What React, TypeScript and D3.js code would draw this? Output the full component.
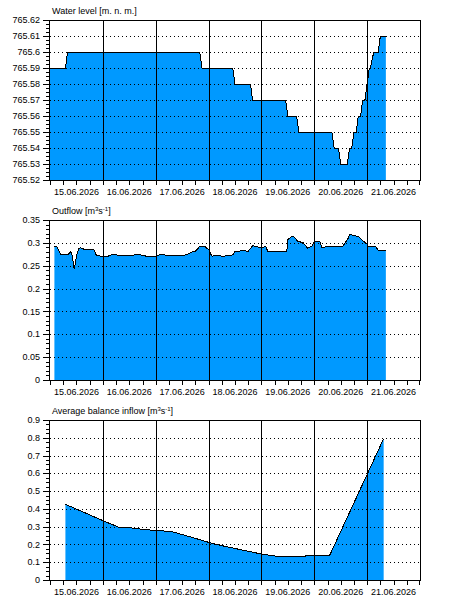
import * as d3 from "d3";

const parse = d3.timeParse("%d.%m.%Y %H:%M");

// water level [m n.m.]
const levelData: [string, number][] = [
  ["15.06.2026 00:00", 765.59],
  ["15.06.2026 07:00", 765.59],
  ["15.06.2026 08:00", 765.6],
  ["17.06.2026 20:00", 765.6],
  ["17.06.2026 21:00", 765.59],
  ["18.06.2026 11:00", 765.59],
  ["18.06.2026 12:00", 765.58],
  ["18.06.2026 19:00", 765.58],
  ["18.06.2026 20:00", 765.57],
  ["19.06.2026 11:00", 765.57],
  ["19.06.2026 12:00", 765.56],
  ["19.06.2026 16:00", 765.56],
  ["19.06.2026 17:00", 765.55],
  ["20.06.2026 08:00", 765.55],
  ["20.06.2026 09:00", 765.54],
  ["20.06.2026 11:00", 765.54],
  ["20.06.2026 12:00", 765.53],
  ["20.06.2026 15:00", 765.53],
  ["20.06.2026 16:00", 765.54],
  ["20.06.2026 17:00", 765.54],
  ["20.06.2026 18:00", 765.55],
  ["20.06.2026 19:00", 765.55],
  ["20.06.2026 20:00", 765.56],
  ["20.06.2026 21:00", 765.56],
  ["20.06.2026 22:00", 765.57],
  ["20.06.2026 23:00", 765.57],
  ["21.06.2026 00:00", 765.58],
  ["21.06.2026 01:00", 765.59],
  ["21.06.2026 01:30", 765.59],
  ["21.06.2026 03:00", 765.6],
  ["21.06.2026 05:00", 765.6],
  ["21.06.2026 06:00", 765.61],
  ["21.06.2026 08:30", 765.61],
];

// outflow [m3/s]
const outflowData: [string, number][] = [
  ["15.06.2026 02:00", 0.292],
  ["15.06.2026 03:00", 0.292],
  ["15.06.2026 05:00", 0.274],
  ["15.06.2026 08:00", 0.274],
  ["15.06.2026 09:30", 0.281],
  ["15.06.2026 10:00", 0.274],
  ["15.06.2026 11:00", 0.2425],
  ["15.06.2026 12:00", 0.27],
  ["15.06.2026 13:00", 0.288],
  ["15.06.2026 14:00", 0.289],
  ["15.06.2026 16:00", 0.285],
  ["15.06.2026 20:00", 0.285],
  ["15.06.2026 21:00", 0.2735],
  ["15.06.2026 23:30", 0.27],
  ["16.06.2026 02:00", 0.27],
  ["16.06.2026 04:00", 0.274],
  ["16.06.2026 08:00", 0.273],
  ["16.06.2026 12:00", 0.273],
  ["16.06.2026 17:00", 0.274],
  ["16.06.2026 20:00", 0.2705],
  ["17.06.2026 00:30", 0.2705],
  ["17.06.2026 02:00", 0.275],
  ["17.06.2026 05:00", 0.273],
  ["17.06.2026 11:00", 0.272],
  ["17.06.2026 14:00", 0.274],
  ["17.06.2026 16:00", 0.279],
  ["17.06.2026 18:00", 0.282],
  ["17.06.2026 20:00", 0.292],
  ["17.06.2026 22:00", 0.293],
  ["18.06.2026 00:00", 0.2855],
  ["18.06.2026 01:30", 0.271],
  ["18.06.2026 03:00", 0.272],
  ["18.06.2026 06:30", 0.271],
  ["18.06.2026 10:00", 0.272],
  ["18.06.2026 11:00", 0.274],
  ["18.06.2026 12:00", 0.281],
  ["18.06.2026 16:00", 0.283],
  ["18.06.2026 18:00", 0.2815],
  ["18.06.2026 20:00", 0.294],
  ["18.06.2026 23:00", 0.29],
  ["19.06.2026 00:00", 0.289],
  ["19.06.2026 02:00", 0.292],
  ["19.06.2026 03:00", 0.28],
  ["19.06.2026 07:00", 0.281],
  ["19.06.2026 11:30", 0.281],
  ["19.06.2026 12:00", 0.307],
  ["19.06.2026 14:00", 0.3146],
  ["19.06.2026 15:00", 0.312],
  ["19.06.2026 16:30", 0.3036],
  ["19.06.2026 19:00", 0.3],
  ["19.06.2026 21:00", 0.288],
  ["19.06.2026 23:00", 0.293],
  ["20.06.2026 00:00", 0.3036],
  ["20.06.2026 02:30", 0.303],
  ["20.06.2026 03:30", 0.29],
  ["20.06.2026 05:00", 0.291],
  ["20.06.2026 09:30", 0.292],
  ["20.06.2026 13:00", 0.293],
  ["20.06.2026 15:30", 0.311],
  ["20.06.2026 16:00", 0.3185],
  ["20.06.2026 17:30", 0.317],
  ["20.06.2026 20:00", 0.3135],
  ["20.06.2026 22:00", 0.305],
  ["21.06.2026 00:00", 0.297],
  ["21.06.2026 00:30", 0.291],
  ["21.06.2026 04:00", 0.291],
  ["21.06.2026 05:00", 0.284],
  ["21.06.2026 08:30", 0.284],
];

// average balance inflow [m3/s]
const inflowData: [string, number][] = [
  ["15.06.2026 07:00", 0.426],
  ["16.06.2026 00:00", 0.334],
  ["16.06.2026 07:00", 0.298],
  ["16.06.2026 11:00", 0.296],
  ["16.06.2026 17:00", 0.2865],
  ["17.06.2026 00:00", 0.278],
  ["17.06.2026 05:00", 0.275],
  ["17.06.2026 08:00", 0.27],
  ["17.06.2026 20:00", 0.227],
  ["18.06.2026 00:00", 0.212],
  ["18.06.2026 07:30", 0.189],
  ["19.06.2026 00:00", 0.146],
  ["19.06.2026 06:00", 0.135],
  ["19.06.2026 20:00", 0.135],
  ["19.06.2026 21:00", 0.139],
  ["20.06.2026 07:00", 0.139],
  ["21.06.2026 07:30", 0.795],
];

const levelTicks = [765.52, 765.53, 765.54, 765.55, 765.56, 765.57, 765.58, 765.59, 765.6, 765.61, 765.62];
const outflowTicks = [0, 0.05, 0.1, 0.15, 0.2, 0.25, 0.3, 0.35];
const inflowTicks = [0, 0.1, 0.2, 0.3, 0.4, 0.5, 0.6, 0.7, 0.8, 0.9];

const startDay = "15.06.2026 00:00";
const endDay = "22.06.2026 00:00";

const FONT = "'Liberation Sans', Arial, sans-serif";
const FILL = "#0099ff";

const x = d3
  .scaleTime()
  .domain([parse(startDay)!, parse(endDay)!])
  .range([50, 420]);

const px = (v: number) => Math.round(v) + 0.5;

interface PanelProps {
  title: React.ReactNode;
  data: [string, number][];
  ticks: number[];
  minorPer: number;
  top: number;
  bottom: number;
}

function Panel({ title, data, ticks, minorPer, top, bottom }: PanelProps) {
  const y = d3
    .scaleLinear()
    .domain([ticks[0], ticks[ticks.length - 1]])
    .range([bottom, top]);

  const pts = data.map(([t, v]) => ({ t: parse(t)!, v }));

  const area = d3
    .area<{ t: Date; v: number }>()
    .x((d) => x(d.t))
    .y0(bottom)
    .y1((d) => y(d.v));
  const line = d3
    .line<{ t: Date; v: number }>()
    .x((d) => x(d.t))
    .y((d) => y(d.v));

  const [x0, x1] = x.range();
  const days = d3.timeDay.range(d3.timeDay.offset(x.domain()[0], 1), x.domain()[1]);
  const sixHours = x.ticks(d3.timeHour.every(6)!);
  const labelDays = d3.timeDay.range(x.domain()[0], x.domain()[1]);
  const fmtDate = d3.timeFormat("%d.%m.%Y");

  const step = ticks[1] - ticks[0];
  const minor: number[] = [];
  for (let i = 0; i < ticks.length - 1; i++) {
    for (let k = 1; k < minorPer; k++) minor.push(ticks[i] + (step * k) / minorPer);
  }

  return (
    <g>
      <text x={52} y={top - 6} fontSize={9} fontFamily={FONT} fill="#000">
        {title}
      </text>
      <path d={area(pts) ?? ""} fill={FILL} />
      {ticks.slice(1, -1).map((t) => (
        <line
          key={"h" + t}
          x1={x0}
          x2={x1}
          y1={px(y(t))}
          y2={px(y(t))}
          stroke="#000"
          strokeDasharray="1,3"
          shapeRendering="crispEdges"
        />
      ))}
      {days.map((d) => (
        <line
          key={"v" + d.getTime()}
          x1={px(x(d))}
          x2={px(x(d))}
          y1={top}
          y2={bottom}
          stroke="#000"
          shapeRendering="crispEdges"
        />
      ))}
      <path
        d={line(pts) ?? ""}
        fill="none"
        stroke="#000"
        strokeWidth={1}
        shapeRendering="crispEdges"
      />
      <rect
        x={px(x0) - 1}
        y={px(top)}
        width={Math.round(x1) - Math.round(x0) + 1}
        height={Math.round(bottom) - Math.round(top)}
        fill="none"
        stroke="#000"
        shapeRendering="crispEdges"
      />
      {ticks.map((t) => (
        <g key={"yt" + t}>
          <line x1={43} x2={50} y1={px(y(t))} y2={px(y(t))} stroke="#000" shapeRendering="crispEdges" />
          <text
            x={40}
            y={y(t)}
            dy="0.35em"
            textAnchor="end"
            fontSize={9}
            fontFamily={FONT}
            fill="#000"
          >
            {String(+t.toFixed(2))}
          </text>
        </g>
      ))}
      {minor.map((t, i) => (
        <line key={"ym" + i} x1={46} x2={50} y1={px(y(t))} y2={px(y(t))} stroke="#000" shapeRendering="crispEdges" />
      ))}
      {sixHours.map((d) => (
        <line
          key={"xt" + d.getTime()}
          x1={px(x(d)) - (x(d) >= x1 ? 1 : 0)}
          x2={px(x(d)) - (x(d) >= x1 ? 1 : 0)}
          y1={bottom}
          y2={bottom + 5}
          stroke="#000"
          shapeRendering="crispEdges"
        />
      ))}
      {labelDays.map((d) => (
        <text
          key={"xl" + d.getTime()}
          x={x(d3.timeHour.offset(d, 12))}
          y={bottom + 15}
          textAnchor="middle"
          fontSize={9}
          fontFamily={FONT}
          fill="#000"
        >
          {fmtDate(d)}
        </text>
      ))}
    </g>
  );
}

const sup = (s: string) => (
  <tspan fontSize={6} dy={-3}>
    {s}
  </tspan>
);

const unit = (
  <>
    [m{sup("3")}
    <tspan dy={3}>s</tspan>
    {sup("-1")}
    <tspan dy={3}>]</tspan>
  </>
);

export default function App() {
  return (
    <svg
      width={450}
      height={610}
      style={{ position: "absolute", left: 0, top: 0, background: "#fff" }}
    >
      <Panel title="Water level [m. n. m.]" data={levelData} ticks={levelTicks} minorPer={4} top={20} bottom={180} />
      <Panel
        title={<>Outflow {unit}</>}
        data={outflowData}
        ticks={outflowTicks}
        minorPer={5}
        top={220}
        bottom={380}
      />
      <Panel
        title={<>Average balance inflow {unit}</>}
        data={inflowData}
        ticks={inflowTicks}
        minorPer={4}
        top={420}
        bottom={580}
      />
    </svg>
  );
}
